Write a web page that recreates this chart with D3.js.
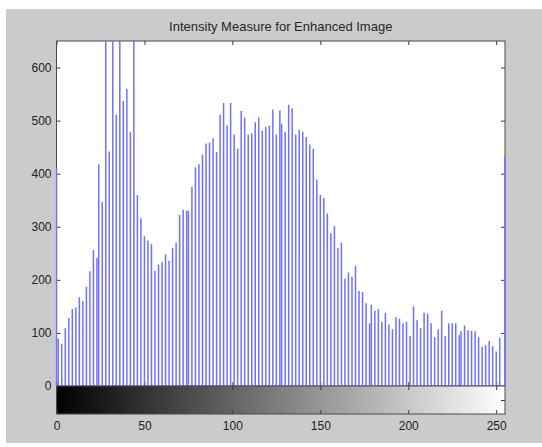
<!DOCTYPE html>
<html>
<head>
<meta charset="utf-8">
<script src="https://cdn.jsdelivr.net/npm/d3@7"></script>
<style>
  body { margin: 0; background: #fff; }
  text { font-family: "Liberation Sans", Arial, sans-serif; }
</style>
</head>
<body>
<svg class="histsvg" width="542" height="447"></svg>
<script>
// intensity levels that have non-zero counts (enhanced image leaves gaps)
var levels = [0, 1, 3, 5, 7, 9, 11, 13, 15, 17, 19, 21, 23, 24, 26, 28, 30, 32, 34, 36,
    38, 40, 42, 44, 46, 48, 50, 52, 54, 56, 58, 60, 62, 64, 66, 68, 70, 72, 74, 75,
    77, 79, 81, 83, 85, 87, 89, 91, 93, 95, 97, 99, 101, 103, 105, 107, 109, 111, 113, 115,
    117, 119, 121, 123, 125, 127, 128, 130, 132, 134, 136, 138, 140, 142, 144, 146, 148, 150, 152, 154,
    156, 158, 160, 162, 164, 166, 168, 170, 172, 174, 176, 178, 179, 181, 183, 185, 187, 189, 191, 193,
    195, 197, 199, 201, 203, 205, 207, 209, 211, 213, 215, 217, 219, 221, 223, 225, 227, 229, 230, 232,
    234, 236, 238, 240, 242, 244, 246, 248, 250, 252, 255];

var counts = [410, 89, 79, 109, 128, 145, 148, 167, 160, 187, 216, 256, 241, 418, 346, 720, 442, 800, 511, 690,
    537, 560, 478, 760, 360, 316, 282, 274, 268, 217, 229, 233, 248, 236, 260, 270, 322, 332, 330, 330,
    375, 412, 418, 436, 457, 459, 467, 441, 511, 533, 491, 533, 474, 447, 518, 506, 474, 476, 497, 506,
    481, 488, 491, 521, 474, 519, 494, 479, 530, 523, 474, 483, 479, 469, 455, 447, 389, 360, 354, 325,
    288, 301, 260, 270, 202, 214, 206, 226, 179, 177, 156, 118, 153, 142, 145, 121, 138, 116, 107, 130,
    127, 118, 121, 94, 150, 124, 109, 138, 136, 118, 92, 107, 142, 94, 118, 118, 118, 96, 103, 114,
    105, 104, 103, 92, 74, 77, 85, 75, 65, 91, 433];

var yTicks = [0, 100, 200, 300, 400, 500, 600];
var xTicks = [0, 50, 100, 150, 200, 250];
var chartTitle = "Intensity Measure for Enhanced Image";

var svg = d3.select(".histsvg");
var axLeft = 56.5, axRight = 505, axTop = 41, axBottom = 386, barBottom = 414;

// figure background
svg.append("rect")
    .attr("x", 6).attr("y", 9)
    .attr("width", 536).attr("height", 434)
    .attr("fill", "#cbcbcb");

var xScale = d3.scaleLinear().domain([0, 255]).range([axLeft, axRight]);
var yScale = d3.scaleLinear().domain([0, 650]).range([axBottom, axTop]);

svg.append("rect")
    .attr("x", axLeft).attr("y", axTop)
    .attr("width", axRight - axLeft).attr("height", axBottom - axTop)
    .attr("fill", "#fff");

svg.append("text")
    .attr("x", (axLeft + axRight) / 2)
    .attr("y", 31)
    .attr("text-anchor", "middle")
    .attr("font-size", "13px")
    .attr("fill", "#262626")
    .text(chartTitle);

// ticks around the main axes
var tickColor = "#3a3a3a";
function styleAxis(g) {
    g.select(".domain").remove();
    g.selectAll(".tick line").attr("stroke", tickColor);
    g.selectAll(".tick text").attr("fill", "#222").attr("font-size", "12px").attr("font-family", "Liberation Sans, Arial, sans-serif");
}

svg.append("g")
    .attr("transform", "translate(" + axLeft + ",0)")
    .call(d3.axisLeft(yScale).tickValues(yTicks).tickSize(-4).tickPadding(5))
    .call(styleAxis);

svg.append("g")
    .attr("transform", "translate(" + axRight + ",0)")
    .call(d3.axisRight(yScale).tickValues(yTicks).tickSize(-4).tickFormat(""))
    .call(styleAxis);

svg.append("g")
    .attr("transform", "translate(0," + axTop + ")")
    .call(d3.axisTop(xScale).tickValues(xTicks).tickSize(-4).tickFormat(""))
    .call(styleAxis);

svg.append("g")
    .attr("transform", "translate(0," + axBottom + ")")
    .call(d3.axisBottom(xScale).tickValues(xTicks).tickSize(-4).tickFormat(""))
    .call(styleAxis);

svg.append("rect")
    .attr("x", axLeft).attr("y", axTop)
    .attr("width", axRight - axLeft).attr("height", axBottom - axTop)
    .attr("fill", "none")
    .attr("stroke", "#4a4a4a");

// stems
svg.append("clipPath").attr("id", "plotclip")
    .append("rect")
    .attr("x", axLeft - 1).attr("y", axTop)
    .attr("width", axRight - axLeft + 2).attr("height", axBottom - axTop);

svg.append("g")
    .attr("clip-path", "url(#plotclip)")
    .selectAll(".stem")
    .data(levels)
    .enter().append("line")
    .attr("class", "stem")
    .attr("x1", function(d) { return xScale(d); })
    .attr("x2", function(d) { return xScale(d); })
    .attr("y1", yScale(0))
    .attr("y2", function(d, i) { return yScale(counts[i]); })
    .attr("stroke", "#7070ff")
    .attr("stroke-width", 1.5);

// grayscale colorbar under the histogram
var grad = svg.append("defs").append("linearGradient")
    .attr("id", "graybar")
    .attr("x1", "0%").attr("x2", "100%").attr("y1", "0%").attr("y2", "0%");
grad.append("stop").attr("offset", "0%").attr("stop-color", "#000");
grad.append("stop").attr("offset", "100%").attr("stop-color", "#fff");

svg.append("rect")
    .attr("x", axLeft).attr("y", axBottom)
    .attr("width", axRight - axLeft).attr("height", barBottom - axBottom)
    .attr("fill", "url(#graybar)");

svg.append("g")
    .attr("transform", "translate(0," + axBottom + ")")
    .call(d3.axisTop(xScale).tickValues(xTicks).tickSize(-4).tickFormat(""))
    .call(styleAxis);

svg.append("g")
    .attr("transform", "translate(0," + barBottom + ")")
    .call(d3.axisBottom(xScale).tickValues(xTicks).tickSize(-4).tickPadding(7))
    .call(styleAxis);

var barY = d3.scaleLinear().domain([0, 1]).range([barBottom, axBottom]);
svg.append("g")
    .attr("transform", "translate(" + axRight + ",0)")
    .call(d3.axisRight(barY).tickValues([0.5]).tickSize(-4).tickFormat(""))
    .call(styleAxis);

svg.append("rect")
    .attr("x", axLeft).attr("y", axBottom)
    .attr("width", axRight - axLeft).attr("height", barBottom - axBottom)
    .attr("fill", "none")
    .attr("stroke", "#4a4a4a");
</script>
</body>
</html>
